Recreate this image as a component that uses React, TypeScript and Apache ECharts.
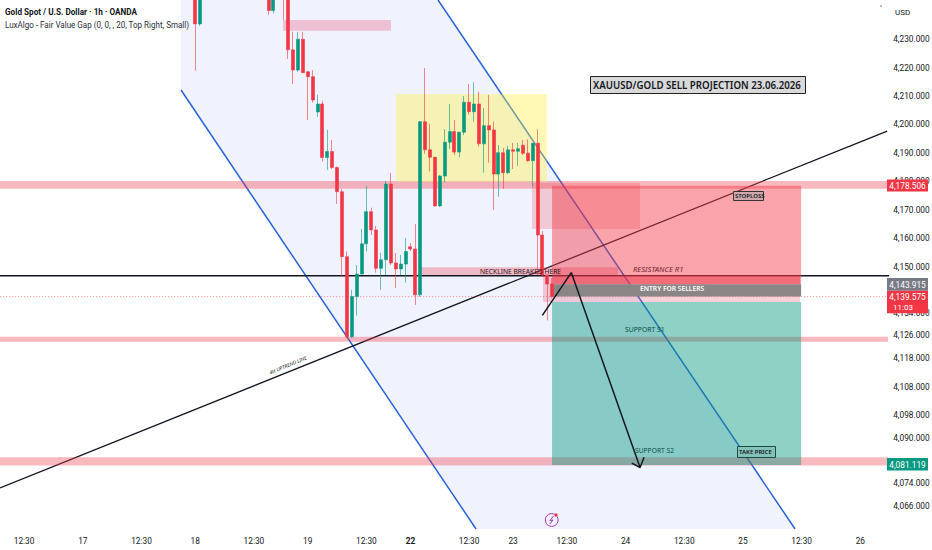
import React, { useEffect, useRef } from "react";
import * as echarts from "echarts";

// ---- price scale ----
const priceMin = 4058.0;
const priceMax = 4243.7;
const priceTicks = [4230, 4220, 4210, 4200, 4190, 4180, 4170, 4160, 4150, 4134, 4126, 4118, 4108, 4098, 4090, 4074, 4066];

// ---- time scale ----
const candleSlots = 182;
const timeTickIndex = [5, 17, 29, 40, 52, 63, 75, 84, 96, 105, 116, 128, 140, 152, 164, 176];
const timeTickLabels = ["12:30", "17", "12:30", "18", "12:30", "19", "12:30", "22", "12:30", "23", "12:30", "24", "12:30", "25", "12:30", "26"];

// ---- candles: [open, close, low, high] ----
const firstCandleSlot = 40;
const candlesFriday: (number[] | null)[] = [
  [4252, 4235.3, 4218.9, 4255], [4235.3, 4252, 4234.6, 4255],
  null, null, null, null, null, null, null, null, null, null, null, null, null,
  [4252, 4240, 4238.5, 4255], [4240, 4252, 4239, 4255], null,
  [4250, 4246, 4236.7, 4255], [4252, 4226.2, 4223, 4255],
  [4226.2, 4219.1, 4214.2, 4232.6], [4219.1, 4229.9, 4218.5, 4232.5], [4229.9, 4218.2, 4218, 4232.5],
  [4218.5, 4216.8, 4201.6, 4218.8], [4216.8, 4208.6, 4207.7, 4219.1], [4204.4, 4207.2, 4202.7, 4210.4],
  [4207.2, 4188.4, 4187, 4208.3], [4188.4, 4190.5, 4184, 4198.1], [4190.5, 4184.9, 4184.4, 4194.6],
  [4184.9, 4176.4, 4172.1, 4185.3], [4176.4, 4153.6, 4146.5, 4177.4], [4153.6, 4125.5, 4125.1, 4155.4],
  [4125.5, 4139.6, 4125.1, 4141.9], [4139.6, 4147.5, 4132.9, 4150.7], [4147.5, 4158.1, 4147.4, 4163.3],
  [4158.1, 4169.4, 4155.4, 4178.4], [4169.4, 4163, 4161.2, 4170.8], [4163, 4149.5, 4148, 4164.4],
  [4149.5, 4152.5, 4141.9, 4155], [4152.5, 4179.1, 4147.2, 4180.2], [4179.1, 4151.4, 4150.7, 4183],
  [4151.4, 4149.3, 4142.6, 4154.9], [4149.3, 4151, 4147.2, 4154.2], [4151, 4155.4, 4144.5, 4160.2],
  [4157.1, 4156.3, 4155.6, 4158.4], [4156.3, 4140.2, 4136.7, 4165.1],
];
const candlesMonday: number[][] = [
  [4140.2, 4201, 4139.5, 4201.2], [4201, 4191.1, 4189.7, 4219.8], [4191.1, 4188.5, 4183.5, 4200.2],
  [4188.5, 4171.4, 4171.1, 4188.6], [4171.4, 4181.9, 4171.1, 4182.3], [4181.9, 4193.8, 4179.6, 4198.4],
  [4193.8, 4197.5, 4191.4, 4207.2], [4197.5, 4190.3, 4189.3, 4201.6], [4190.3, 4197.3, 4188.5, 4197.4],
  [4197.3, 4207.8, 4196.3, 4210], [4207.8, 4204.5, 4203.4, 4214.2], [4204.5, 4207.2, 4201, 4214.8],
  [4207.2, 4193.2, 4192.2, 4211.5], [4193.2, 4199.6, 4183.1, 4205.8], [4199.6, 4198.1, 4186.6, 4210.4],
  [4198.1, 4182.6, 4170, 4201], [4182.6, 4190.1, 4174.6, 4192.8], [4190.1, 4183.1, 4177.4, 4191.8],
  [4183.1, 4191.1, 4182.6, 4192.5], [4191.1, 4190.6, 4184.4, 4193.5], [4190.6, 4191.5, 4185.5, 4193.6],
  [4192.7, 4189.9, 4189.3, 4194.6], [4189.9, 4187.3, 4186.9, 4194.8], [4187.3, 4193.4, 4178.2, 4193.5],
  [4193.4, 4161.2, 4147.2, 4198.3], [4161.2, 4147.2, 4146.5, 4162.6], [4147.2, 4144, 4131.2, 4147.2],
  [4144, 4139.575, 4139.1, 4146.1],
];

// ---- levels ----
const lastPrice = 4139.575;
const neckPrice = 4146.9;
const tagStop = 4178.506;
const tagEntry = 4143.915;
const tagTarget = 4081.119;

// ---- drawn shapes, all in [slot, price] ----
const channelOutline = [[36.09, 4243.7], [88.65, 4243.7], [161.66, 4058], [96.42, 4058], [36.09, 4212.1]];
const channelLower = [[36.09, 4212.1], [96.42, 4058]];
const channelUpper = [[88.65, 4243.7], [161.66, 4058]];
const uptrend = [[-0.92, 4072.4], [180.5, 4197.7]];
const bandRows = [
  [-1.5, 4180.2, 181, 4177.4],
  [-1.5, 4125.5, 181, 4123.7],
  [-1.5, 4083.2, 181, 4080.3],
  [56.95, 4236.7, 79.04, 4232.9],
  [85.17, 4149.9, 125.46, 4147.2],
  [110.1, 4146.9, 162.68, 4137.7],
];
const bandColors = ["rgba(242,54,69,.35)", "rgba(242,54,69,.35)", "rgba(242,54,69,.35)", "rgba(233,88,125,.33)", "rgba(242,54,69,.3)", "rgba(226,90,110,.28)"];
const zoneRows = [
  [80.06, 4210.7, 110.88, 4179.9],
  [111.96, tagStop, 162.9, tagEntry],
  [111.96, 4137.7, 162.9, 4080.5],
  [107.87, 4179.5, 129.96, 4163.3],
  [111.96, 4146.9, 162.68, tagEntry],
  [111.96, tagEntry, 162.9, lastPrice],
];
const zoneColors = ["rgba(255,240,60,.38)", "rgba(242,54,69,.45)", "rgba(8,153,129,.45)", "rgba(242,54,69,.22)", "rgba(242,54,69,.35)", "#8a8686"];
const arrowStem = [[109.98, 4133], [115.9, 4148], [129.96, 4079.6]];
const arrowHeadA = [[128.27, 4081.1], [129.96, 4079.6], [130.78, 4083.2]];

const UP = "#089981";
const DOWN = "#f23645";
const FONT = "Roboto";

const fmt = (v: number) => v.toLocaleString("en-US", { minimumFractionDigits: 3, maximumFractionDigits: 3 });

function rectsRenderer(colors: string[]) {
  return (params: any, api: any) => {
    const a = api.coord([api.value(0), api.value(1)]);
    const b = api.coord([api.value(2), api.value(3)]);
    return {
      type: "rect",
      shape: { x: Math.min(a[0], b[0]), y: Math.min(a[1], b[1]), width: Math.abs(a[0] - b[0]), height: Math.abs(a[1] - b[1]) },
      style: { fill: colors[params.dataIndex] },
    };
  };
}

function lineSeries(data: number[][], color: string, width: number, z: number, extra: any = {}) {
  return {
    type: "line", xAxisIndex: 1, yAxisIndex: 0, data, symbol: "none", z, silent: true, clip: true,
    lineStyle: { color, width, ...extra },
  };
}

function textEl(text: string, x: number, y: number, size: number, fill: string, extra: any = {}) {
  const { align = "left", weight = "normal", italic = false, rotation, family = FONT, scaleY = 1 } = extra;
  return {
    type: "text", x, y, rotation, scaleY, z: 100, silent: true,
    style: { text, fill, fontSize: size, fontFamily: family, fontWeight: weight, fontStyle: italic ? "italic" : "normal", align, verticalAlign: "middle" },
  };
}

function boxEl(x: number, y: number, w: number, h: number, fill: string, stroke?: string) {
  return { type: "rect", z: 99, silent: true, shape: { x, y, width: w, height: h }, style: { fill, stroke, lineWidth: stroke ? 1 : 0 } };
}

export default function App() {
  const ref = useRef<HTMLDivElement>(null);
  useEffect(() => {
    const chart = echarts.init(ref.current!, undefined, { renderer: "svg" });
    const categories = Array.from({ length: candleSlots }, (_, i) => {
      const k = timeTickIndex.indexOf(i);
      return k >= 0 ? timeTickLabels[k] : "";
    });
    const lead = Array.from({ length: firstCandleSlot }, () => null as any);
    const candleData = [...lead, ...candlesFriday, ...candlesMonday].map((c) => c ?? ["-", "-", "-", "-"]);

    const graphicEls: any[] = [
      textEl("Gold Spot / U.S. Dollar · 1h · OANDA", 5, 12, 8.2, "#131722", { weight: 700, scaleY: 1.15 }),
      textEl("LuxAlgo - Fair Value Gap (0, 0, , 20, Top Right, Small)", 5, 25, 8.05, "#2a2e39", { scaleY: 1.15 }),
      textEl("USD", 895, 12, 8, "#131722"),
      { type: "circle", z: 100, silent: true, shape: { cx: 881, cy: 6, r: 0.6 }, style: { fill: "#333" } },
      boxEl(590.5, 76.5, 215, 17, "#d9d9d9", "#222"),
      textEl("XAUUSD/GOLD SELL PROJECTION 23.06.2026", 593, 85, 9.7, "#131722", { weight: 600, family: "Noto Sans", scaleY: 1.1 }),
      textEl("NECKLINE BREAKED HERE", 480, 270.5, 6.7, "#2a1216", { family: "Noto Sans", scaleY: 1.1 }),
      textEl("RESISTANCE R1", 633, 268.5, 7.6, "#7a2030", { italic: true, family: "Noto Sans" }),
      textEl("ENTRY FOR SELLERS", 640, 288, 6.7, "#ffffff", { weight: 600, family: "Noto Sans" }),
      textEl("SUPPORT S1", 625, 328.5, 6.8, "#0a4f47", { family: "Noto Sans", scaleY: 1.1 }),
      textEl("SUPPORT S2", 635, 450, 6.7, "#0a4f47", { family: "Noto Sans", scaleY: 1.1 }),
      boxEl(733.5, 191.5, 30, 9, "#cfa9ae", "#333"),
      textEl("STOPLOSS", 735, 196, 6, "#131722", { weight: 600, family: "Noto Sans" }),
      boxEl(737.5, 446.5, 38, 11, "#83c2b8", "#1d4a44"),
      textEl("TAKE PRICE", 739, 452, 6, "#131722", { weight: 600, family: "Noto Sans" }),
      textEl("4H UPTREND LINE", 288, 365, 5, "#131722", { italic: true, align: "center", rotation: 0.39, family: "Noto Sans" }),
      boxEl(887, 179.5, 41, 12, DOWN),
      textEl(fmt(tagStop), 907.5, 186, 8.3, "#ffffff", { align: "center" }),
      boxEl(887, 278, 41, 12.7, "#787b86"),
      textEl(fmt(tagEntry), 907.5, 284.5, 8.3, "#ffffff", { align: "center" }),
      boxEl(887, 290.7, 41, 22.6, DOWN),
      textEl(fmt(lastPrice), 907.5, 297, 8.3, "#ffffff", { align: "center" }),
      textEl("11:03", 893, 307, 8, "#ffffff"),
      boxEl(887, 458, 41, 12.5, UP),
      textEl(fmt(tagTarget), 907.5, 464.5, 8.3, "#ffffff", { align: "center" }),
      { type: "circle", z: 100, silent: true, shape: { cx: 551.7, cy: 520, r: 6.4 }, style: { fill: "#f0f3fe", stroke: "#a832b8", lineWidth: 1 } },
      { type: "polyline", z: 101, silent: true, shape: { points: [[553.5, 516], [550, 520.5], [553, 520], [549.8, 524]] }, style: { fill: "none", stroke: "#a832b8", lineWidth: 1 } },
      { type: "circle", z: 101, silent: true, shape: { cx: 556, cy: 515, r: 1.6 }, style: { fill: DOWN } },
    ];

    chart.setOption({
      animation: false,
      backgroundColor: "#ffffff",
      textStyle: { fontFamily: FONT },
      grid: { left: -2.79, top: 0, width: 889.99, height: 529, containLabel: false, outerBoundsMode: "none" },
      xAxis: [
        {
          type: "category", data: categories, boundaryGap: true, position: "bottom",
          axisLine: { show: false }, axisTick: { show: false }, splitLine: { show: false },
          axisLabel: {
            color: "#131722", fontSize: 8.3, fontFamily: FONT, margin: 8, hideOverlap: false,
            interval: (idx: number) => timeTickIndex.includes(idx),
            formatter: (v: string) => (v === "22" ? `{b|${v}}` : v),
            rich: { b: { fontWeight: 700, fontSize: 8.3, fontFamily: FONT, color: "#131722" } },
          },
        },
        { type: "value", min: -1.5, max: 180.5, show: false },
      ],
      yAxis: {
        type: "value", position: "right", min: priceMin, max: priceMax,
        axisLine: { show: false }, axisTick: { show: false }, splitLine: { show: false },
        axisLabel: {
          customValues: priceTicks, color: "#131722", fontSize: 8.3, fontFamily: FONT, margin: 6,
          formatter: (v: number) => fmt(v),
        },
      },
      graphic: { elements: graphicEls },
      series: [
        {
          type: "custom", xAxisIndex: 1, yAxisIndex: 0, z: 1, silent: true, data: channelOutline,
          renderItem: (params: any, api: any) =>
            params.dataIndex === 0
              ? { type: "polygon", shape: { points: channelOutline.map((p) => api.coord(p)) }, style: { fill: "#f0f3fe" } }
              : null,
        },
        lineSeries(channelLower, "#2962d9", 1.5, 2),
        lineSeries(channelUpper, "#2962d9", 1.5, 2),
        lineSeries(uptrend, "#131722", 1.3, 2),
        lineSeries([[-1.5, neckPrice], [181, neckPrice]], "#131722", 1.3, 2),
        lineSeries([[-1.5, lastPrice], [181, lastPrice]], "rgba(242,54,69,.6)", 1, 2, { type: [1, 2] }),
        {
          type: "custom", xAxisIndex: 1, yAxisIndex: 0, z: 3, silent: true, clip: true, data: bandRows,
          encode: { x: [0, 2], y: [1, 3] }, renderItem: rectsRenderer(bandColors),
        },
        {
          type: "custom", xAxisIndex: 1, yAxisIndex: 0, z: 4, silent: true, clip: true, data: zoneRows,
          encode: { x: [0, 2], y: [1, 3] }, renderItem: rectsRenderer(zoneColors),
        },
        {
          type: "candlestick", xAxisIndex: 0, yAxisIndex: 0, z: 5, silent: true, clip: true,
          data: candleData, barWidth: 3.5,
          itemStyle: { color: UP, color0: DOWN, borderColor: UP, borderColor0: DOWN, borderWidth: 0.6 },
        },
        lineSeries(arrowStem, "#131722", 1.5, 6),
        lineSeries(arrowHeadA, "#131722", 1.5, 6),
      ],
    });
    return () => chart.dispose();
  }, []);
  return <div ref={ref} style={{ position: "absolute", left: 0, top: 0, width: 932, height: 550 }} />;
}
